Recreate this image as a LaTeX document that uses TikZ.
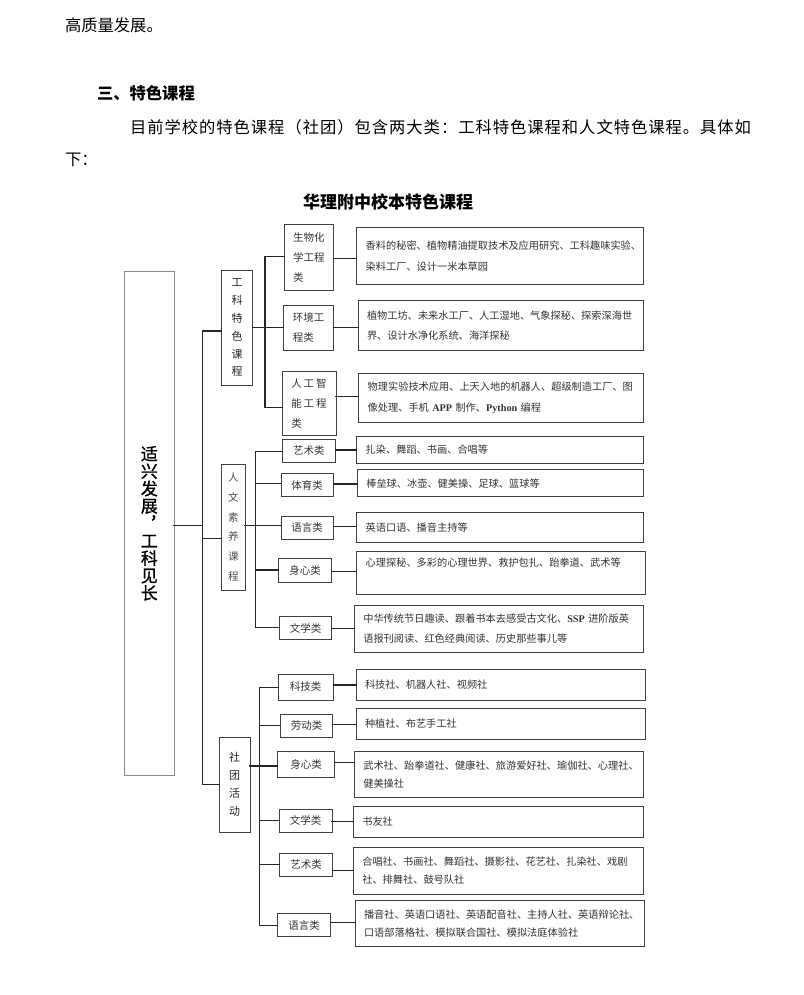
\documentclass[tikz,border=0pt]{standalone}
\usepackage{fontspec}
\setmainfont{Noto Sans CJK SC}
\newfontfamily\latinfont{Liberation Serif}
\usetikzlibrary{positioning}

\tikzset{
	plaintext/.style={inner sep=0pt, outer sep=0pt, font=\fontsize{16.3}{20}\selectfont},
	rootbox/.style={draw=black!45, line width=1pt, anchor=north west, inner sep=0pt, outer sep=0pt, align=center, font=\fontsize{17}{17.4}\selectfont\addfontfeatures{FakeBold=1}},
	groupbox/.style={draw=black!75, line width=0.9pt, anchor=north west, inner sep=0pt, outer sep=0pt, align=center, text=black!85, font=\fontsize{11}{17.8}\selectfont},
	kindbox/.style={draw=black!75, line width=0.9pt, anchor=north west, inner sep=0pt, outer sep=0pt, align=left, text=black!80, font=\fontsize{10.5}{20}\selectfont},
	listbox/.style={draw=black!75, line width=0.9pt, anchor=north west, inner xsep=9pt, inner ysep=0pt, outer sep=0pt, align=left, text=black!80, font=\fontsize{10.2}{20.5}\selectfont},
	conn/.style={line width=1.25pt, draw=black!85, line cap=rect}
}

\begin{document}
\begin{tikzpicture}[x=1pt,y=-1pt]
			\useasboundingbox (0,0) rectangle (803,995);
			% page text
			\node[plaintext, anchor=west] (p1) at (65,25) {高质量发展。};
			\node[plaintext, anchor=west] (p2) at (97,93) {\bfseries 三、特色课程};
			\node[plaintext, anchor=west] (p3) at (130,127) {\addfontfeatures{LetterSpace=6}目前学校的特色课程（社团）包含两大类：工科特色课程和人文特色课程。具体如};
			\node[plaintext, anchor=west] (p4) at (65,160) {下：};
			\node[plaintext, font=\fontsize{17}{20}\selectfont] (title) at (388,202) {\bfseries 华理附中校本特色课程};
			% boxes
			\node[rootbox, minimum width=49.3pt, minimum height=503.3pt] (root) at (124.7,271.7)
				{适\\兴\\发\\展\\︐\\工\\科\\见\\长};
			\node[groupbox, minimum width=31pt, minimum height=114.3pt] (gk) at (221.7,270.7) {工\\科\\特\\色\\课\\程};
			\node[groupbox, minimum width=23.3pt, minimum height=126pt, text=black!70, font=\fontsize{10.5}{19.8}\selectfont] (rw) at (221.7,464) {人\\文\\素\\养\\课\\程};
			\node[groupbox, minimum width=31pt, minimum height=94.7pt, font=\fontsize{11}{18}\selectfont] (st) at (219,737.3) {社\\团\\活\\动};

			\node[kindbox, minimum width=49pt, minimum height=66.7pt] (a1) at (284.3,224) {生物化\\学工程\\类};
			\node[kindbox, minimum width=50pt, minimum height=45.7pt] (a2) at (283.7,305) {环境工\\程类};
			\node[kindbox, minimum width=54pt, minimum height=63.3pt] (a3) at (282,371.7)
				{人\hspace{2pt}工\hspace{2pt}智\\能\hspace{2pt}工\hspace{2pt}程\\类};
			\node[kindbox, align=center, minimum width=53pt, minimum height=23pt] (b1) at (282.3,439) {艺术类};
			\node[kindbox, align=center, minimum width=52.3pt, minimum height=23.4pt] (b2) at (281,473.3) {体育类};
			\node[kindbox, align=center, minimum width=52.3pt, minimum height=23.3pt] (b3) at (281,516) {语言类};
			\node[kindbox, align=center, minimum width=52.6pt, minimum height=23.3pt] (b4) at (278.7,558.7) {身心类};
			\node[kindbox, align=center, minimum width=52.4pt, minimum height=22.6pt] (b5) at (279.3,616.7) {文学类};
			\node[kindbox, align=center, minimum width=55.3pt, minimum height=26pt] (c1) at (278,674) {科技类};
			\node[kindbox, align=center, minimum width=52.4pt, minimum height=23.3pt] (c2) at (280.3,714) {劳动类};
			\node[kindbox, align=center, minimum width=56.6pt, minimum height=25.6pt] (c3) at (277.7,751.7) {身心类};
			\node[kindbox, align=center, minimum width=52.7pt, minimum height=23pt] (c4) at (279.3,809) {文学类};
			\node[kindbox, align=center, minimum width=53.4pt, minimum height=23pt] (c5) at (279.3,853) {艺术类};
			\node[kindbox, align=center, minimum width=53.4pt, minimum height=23pt] (c6) at (277.3,913.7) {语言类};

			\node[listbox, text width=268.6pt, minimum height=56.3pt] (A1) at (356.7,227.7)
				{香料的秘密、植物精油提取技术及应用研究、工科趣味实验、\\染料工厂、设计一米本草园};
			\node[listbox, text width=267.3pt, minimum height=50pt] (A2) at (358,300.7)
				{植物工坊、未来水工厂、人工湿地、气象探秘、探索深海世\\界、设计水净化系统、海洋探秘};
			\node[listbox, text width=266.6pt, minimum height=49pt] (A3) at (358.7,373.3)
				{物理实验技术应用、上天入地的机器人、超级制造工厂、图\\像处理、手机 {\latinfont\bfseries APP} 制作、{\latinfont\bfseries Python} 编程};
			\node[listbox, text width=268.6pt, minimum height=26.6pt] (B1) at (356.7,436.7) {扎染、舞蹈、书画、合唱等};
			\node[listbox, text width=268pt, minimum height=27pt] (B2) at (357.3,469.7) {棒垒球、冰壶、健美操、足球、篮球等};
			\node[listbox, text width=268.6pt, minimum height=30.4pt] (B3) at (356.7,512.3) {英语口语、播音主持等};
			\node[listbox, text width=270.6pt, minimum height=42.3pt] (B4) at (356.7,551.7)
				{心理探秘、多彩的心理世界、救护包扎、跆拳道、武术等\\\mbox{}};
			\node[listbox, text width=271pt, minimum height=46.3pt] (B5) at (354.3,605.7)
				{中华传统节日趣读、跟着书本去感受古文化、{\latinfont\bfseries SSP} 进阶版英\\语报刊阅读、红色经典阅读、历史那些事儿等};
			\node[listbox, text width=271pt, minimum height=30.7pt] (C1) at (356,669.3) {科技社、机器人社、视频社};
			\node[listbox, text width=271pt, minimum height=30.7pt] (C2) at (356,708.3) {种植社、布艺手工社};
			\node[listbox, text width=271pt, minimum height=46.7pt, font=\fontsize{10.2}{18}\selectfont] (C3) at (354.3,751)
				{武术社、跆拳道社、健康社、旅游爱好社、瑜伽社、心理社、\\健美操社};
			\node[listbox, text width=272pt, minimum height=31.3pt] (C4) at (353.3,806) {书友社};
			\node[listbox, text width=272pt, minimum height=46.3pt, font=\fontsize{10.2}{18}\selectfont] (C5) at (353.3,847.7)
				{合唱社、书画社、舞蹈社、摄影社、花艺社、扎染社、戏剧\\社、排舞社、鼓号队社};
			\node[listbox, text width=271.3pt, minimum height=46pt, font=\fontsize{10.2}{18}\selectfont] (C6) at (355,900.7)
				{播音社、英语口语社、英语配音社、主持人社、英语辩论社、\\口语部落格社、模拟联合国社、模拟法庭体验社};

			% trunks
			\coordinate (t0a) at (202.7,331);   \coordinate (t0b) at (202.7,784.3);
			\coordinate (tga) at (265,256.3);   \coordinate (tgb) at (265,407.7);
			\coordinate (tra) at (255.3,451.7); \coordinate (trb) at (255.3,627.7);
			\coordinate (tsa) at (259.7,687.3); \coordinate (tsb) at (259.7,925.7);
			\draw[conn] (t0a) -- (t0b);
			\draw[conn] (tga) -- (tgb);
			\draw[conn] (tra) -- (trb);
			\draw[conn] (tsa) -- (tsb);

			\draw[conn] (root.east |- 0,525.7) -- (t0a |- 0,525.7);
			\foreach \n/\y in {gk/331, rw/538.3, st/784.3}
				\draw[conn] (t0a |- 0,\y) -- (\n.west |- 0,\y);

			\draw[conn] (gk.east |- 0,327.3) -- (tga |- 0,327.3);
			\draw[conn] (rw.east |- 0,525.7) -- (tra |- 0,525.7);
			\draw[conn] (st.east |- 0,766) -- (tsa |- 0,766);
			\foreach \n/\y in {a1/256.3, a2/327.3, a3/407.7}
				\draw[conn] (tga |- 0,\y) -- (\n.west |- 0,\y);
			\foreach \n/\y in {b1/451.7, b2/483.3, b3/525.7, b4/570, b5/627.7}
				\draw[conn] (tra |- 0,\y) -- (\n.west |- 0,\y);
			\foreach \n/\y in {c1/687.3, c2/725.7, c3/766, c4/820.7, c5/864.3, c6/925.7}
				\draw[conn] (tsa |- 0,\y) -- (\n.west |- 0,\y);

			\foreach \l/\r/\y in {a1/A1/258.3, a2/A2/327.3, a3/A3/396.7,
				b1/B1/450, b2/B2/484, b3/B3/526.7, b4/B4/571.7, b5/B5/628.3,
				c1/C1/685, c2/C2/724.3, c3/C3/762.3, c4/C4/821.7, c5/C5/870.7, c6/C6/922.7}
				\draw[conn] (\l.east |- 0,\y) -- (\r.west |- 0,\y);
		\end{tikzpicture}
\end{document}
